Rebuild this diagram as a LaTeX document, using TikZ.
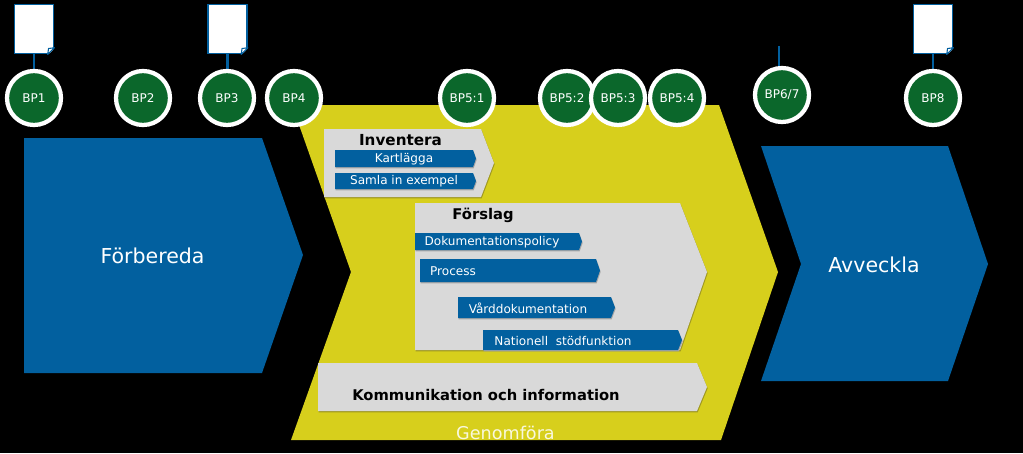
\documentclass[tikz,border=0pt]{standalone}
\usepackage{fontspec}
\setmainfont{DejaVu Sans}
\definecolor{bpblue}{HTML}{02609F}
\definecolor{bpyellow}{HTML}{D7CF1C}
\definecolor{bpgray}{HTML}{D9D9D9}
\definecolor{bpgreen}{HTML}{0B672B}
\definecolor{olive}{HTML}{9F9820}
\definecolor{greyshadow}{HTML}{A6A6A6}
\tikzset{
  x=0.75pt,y=-0.75pt,
  panel/.style={fill=bpgray,preaction={fill=olive,transform canvas={shift={(0.5pt,-1pt)}}}},
  bar/.style={fill=bpblue,preaction={fill=greyshadow,transform canvas={shift={(0.5pt,-1pt)}}}},
  big/.style={fill=bpblue},
  bp/.style={circle,draw=white,line width=3.2pt,fill=bpgreen,minimum size=40.5pt,inner sep=0pt,text=white,font=\fontsize{9}{10}\selectfont},
  doc/.style={rectangle,draw=bpblue,line width=1.1pt,fill=white,minimum width=29.5pt,minimum height=37pt,inner sep=0pt},
  link/.style={draw=bpblue,line width=2.2pt},
  barlabel/.style={text=white,inner sep=0pt,font=\fontsize{9.05}{10}\selectfont},
  boldlabel/.style={text=black,inner sep=0pt,font=\bfseries\fontsize{11.05}{12}\selectfont},
  biglabel/.style={text=white,inner sep=0pt,font=\fontsize{15.4}{18}\selectfont},
}
\newcommand{\foldcorner}[1]{%
  \fill[black] ([xshift=-5pt,yshift=-0.7pt]#1.south east) -- ([xshift=0.7pt,yshift=-0.7pt]#1.south east) -- ([xshift=0.7pt,yshift=5pt]#1.south east) -- cycle;
  \draw[bpblue,line width=0.8pt,fill=white,line join=round] ([xshift=-5pt]#1.south east) -- ([xshift=-4.4pt,yshift=4.4pt]#1.south east) -- ([yshift=5pt]#1.south east) -- cycle;
}
\begin{document}
\begin{tikzpicture}
\useasboundingbox (0,0) rectangle (1023,453);
\fill[black] (0,0) rectangle (1023,453);
% main chevrons
\fill[big] (24,138) -- (262,138) -- (303,255) -- (262,373) -- (24,373) -- cycle;
\fill[bpyellow] (292,105) -- (719,105) -- (778,272) -- (721,440) -- (291,440) -- (351,272) -- cycle;
\fill[big] (761,146) -- (948,146) -- (988,264) -- (948,381) -- (761,381) -- (801,264) -- cycle;
% panels
\fill[panel] (324,129) -- (481,129) -- (494,163) -- (481,197) -- (324,197) -- cycle;
\fill[panel] (415,203) -- (680,203) -- (707,272) -- (680,350) -- (415,350) -- cycle;
\fill[panel] (318,363) -- (697,363) -- (707,387) -- (697,411) -- (318,411) -- cycle;
% bars
\fill[bar] (335,150) -- (473,150) -- (476,158.5) -- (473,167) -- (335,167) -- cycle;
\fill[bar] (335,173) -- (473,173) -- (476,181) -- (473,189) -- (335,189) -- cycle;
\fill[bar] (415,233) -- (579,233) -- (582,241.5) -- (579,250) -- (415,250) -- cycle;
\fill[bar] (420,259) -- (596,259) -- (600,270.5) -- (596,282) -- (420,282) -- cycle;
\fill[bar] (458,297) -- (611,297) -- (615,307.5) -- (611,318) -- (458,318) -- cycle;
\fill[bar] (483,330) -- (678,330) -- (682,340) -- (678,350) -- (483,350) -- cycle;
% labels
\node[biglabel] (forbereda) at (152.5,256) {Förbereda};
\node[biglabel] (avveckla) at (874,265) {Avveckla};
\node[boldlabel,font=\bfseries\fontsize{11.4}{12}\selectfont] (inventera) at (400.5,140) {Inventera};
\node[boldlabel] (forslag) at (483,215) {Förslag};
\node[boldlabel] (kommunikation) at (486,395) {Kommunikation och information};
\node[barlabel] (kartlagga) at (404,159) {Kartlägga};
\node[barlabel] (samla) at (404,181) {Samla in exempel};
\node[barlabel] (policy) at (492,242) {Dokumentationspolicy};
\node[barlabel] (process) at (453,271) {Process};
\node[barlabel] (vard) at (528,308) {Vårddokumentation};
\node[barlabel] (stod) at (563,341) {Nationell\ \ stödfunktion};
\node[biglabel,anchor=base,text=white!85!bpyellow,font=\fontsize{13.2}{15}\selectfont] (genomfora) at (505.5,439) {Genomföra};
% documents
\node[doc] (d1) at (34,29) {};
\node[doc] (d3) at (227.5,29) {};
\node[doc] (d8) at (933,29) {};
\foldcorner{d1}\foldcorner{d3}\foldcorner{d8}
% milestones
\coordinate (free67) at (779,46);
\draw[link] (free67) -- (779,72);
\draw[link] (d1.south) -- (34,72);
\draw[link] (d3.south) -- (227.5,72);
\draw[link] (d8.south) -- (933,72);
\node[bp] (bp1) at (34,98) {BP1};
\node[bp] (bp2) at (143,98) {BP2};
\node[bp] (bp3) at (227,98) {BP3};
\node[bp] (bp4) at (294,98) {BP4};
\node[bp] (bp51) at (467,98) {BP5:1};
\node[bp] (bp52) at (567,98) {BP5:2};
\node[bp] (bp53) at (618,98) {BP5:3};
\node[bp] (bp54) at (677,98) {BP5:4};
\node[bp] (bp67) at (782,95) {BP6/7};
\node[bp] (bp8) at (933,98) {BP8};
\end{tikzpicture}
\end{document}
